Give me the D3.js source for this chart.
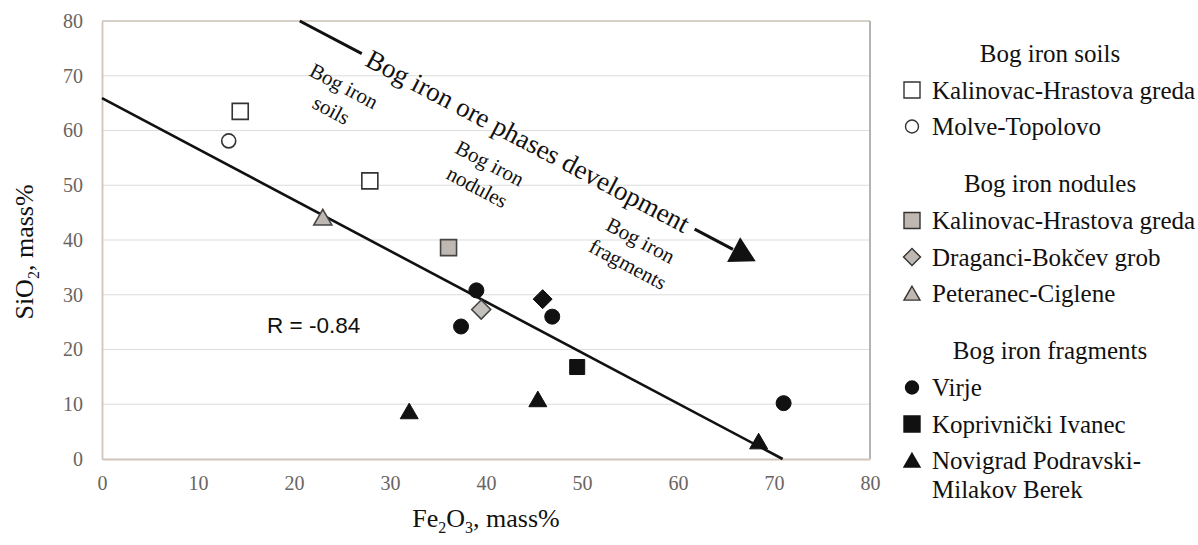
<!DOCTYPE html>
<html>
<head>
<meta charset="utf-8">
<script src="https://cdn.jsdelivr.net/npm/d3@7"></script>
<style>
  html, body { margin: 0; padding: 0; background: #fff; }
  svg { display: block; }
</style>
</head>
<body>
<svg id="chart" width="1198" height="545"></svg>
<script>
// ---------- data ----------
const xTicks = [0, 10, 20, 30, 40, 50, 60, 70, 80];
const yTicks = [0, 10, 20, 30, 40, 50, 60, 70, 80];
const xTitle = ["Fe", "2", "O", "3", ", mass%"];
const yTitle = ["SiO", "2", ", mass%"];

// Bog iron soils
const soilsKalinovac = [[14.4, 63.5], [27.9, 50.8]];
const soilsMolve = [[13.2, 58.1]];
// Bog iron nodules
const nodKalinovac = [[36.1, 38.6]];
const nodDraganci = [[39.5, 27.3]];
const nodPeteranec = [[23.0, 43.7]];
// Bog iron fragments
const fragVirje = [[39.0, 30.8], [37.4, 24.2], [46.9, 26.0], [71.0, 10.2]];
const fragKoprivnicki = [[49.5, 16.8]];
const fragNovigrad = [[32.0, 8.3], [45.4, 10.5], [68.4, 2.8]];
const fragDiamond = [[45.9, 29.2]];

// regression line (end points)
const trendX = [0, 70.9];
const trendY = [65.9, 0];
const rLabel = "R = -0.84";
const rPos = [17.2, 23.1];

// development arrow (data coordinates)
const arrowStart = [20.6, 80.0];
const arrowEnd = [68.1, 36.1];
const arrowLabel = "Bog iron ore phases development";

// phase annotations: [x, y] of first-line centre, lines
const phaseLabels = [
  { pos: [25.2, 68.1], lines: ["Bog iron", "soils"] },
  { pos: [40.4, 54.0], lines: ["Bog iron", "nodules"] },
  { pos: [56.1, 39.9], lines: ["Bog iron", "fragments"] }
];

// legend
const legendGroups = [
  { title: "Bog iron soils", items: [
    { label: ["Kalinovac-Hrastova greda"], shape: "square", fill: "#ffffff" },
    { label: ["Molve-Topolovo"], shape: "circle", fill: "#ffffff" } ] },
  { title: "Bog iron nodules", items: [
    { label: ["Kalinovac-Hrastova greda"], shape: "square", fill: "#bfb8b2" },
    { label: ["Draganci-Bokčev grob"], shape: "diamond", fill: "#bfb8b2" },
    { label: ["Peteranec-Ciglene"], shape: "triangle", fill: "#bfb8b2" } ] },
  { title: "Bog iron fragments", items: [
    { label: ["Virje"], shape: "circle", fill: "#111111" },
    { label: ["Koprivnički Ivanec"], shape: "square", fill: "#111111" },
    { label: ["Novigrad Podravski-", "Milakov Berek"], shape: "triangle", fill: "#111111" } ] }
];

// ---------- drawing ----------
const serif = "'Liberation Serif', 'Times New Roman', serif";
const sans = "'Liberation Sans', Arial, sans-serif";
const svg = d3.select("#chart");

const x = d3.scaleLinear().domain([0, 80]).range([102, 870]);
const y = d3.scaleLinear().domain([0, 80]).range([459, 21]);

// gridlines
svg.append("g")
  .selectAll("line")
  .data(yTicks.filter(t => t > 0 && t < 80))
  .join("line")
  .attr("x1", x(0)).attr("x2", x(80))
  .attr("y1", d => y(d)).attr("y2", d => y(d))
  .attr("stroke", "#dcdcdc").attr("stroke-width", 1.2);

// frame
svg.append("line").attr("x1", x(0)).attr("x2", x(80)).attr("y1", y(80)).attr("y2", y(80))
  .attr("stroke", "#c9c0b7").attr("stroke-width", 1.6);
svg.append("line").attr("x1", x(80)).attr("x2", x(80)).attr("y1", y(80)).attr("y2", y(0))
  .attr("stroke", "#b4b4b4").attr("stroke-width", 2);

// axes
const xAxis = svg.append("g").attr("transform", `translate(0,${y(0)})`)
  .call(d3.axisBottom(x).tickValues(xTicks).tickFormat(d3.format("d")).tickSize(0).tickPadding(17));
const yAxis = svg.append("g").attr("transform", `translate(${x(0)},0)`)
  .call(d3.axisLeft(y).tickValues(yTicks).tickFormat(d3.format("d")).tickSize(0).tickPadding(19));
[xAxis, yAxis].forEach(g => {
  g.select(".domain").attr("stroke", "#cfc5bc").attr("stroke-width", 1.8);
  g.selectAll("text").attr("font-family", serif).attr("font-size", 20).attr("fill", "#6a6460");
});

// axis titles
const xt = svg.append("text").attr("x", (x(0) + x(80)) / 2).attr("y", 527)
  .attr("text-anchor", "middle").attr("font-family", serif).attr("font-size", 26).attr("fill", "#111");
xTitle.forEach((s, i) => {
  const sub = (i === 1 || i === 3);
  xt.append("tspan").text(s)
    .attr("font-size", sub ? 16 : 26)
    .attr("dy", sub ? 6 : (i === 0 ? 0 : -6));
});
const yt = svg.append("text").attr("transform", `translate(33,252) rotate(-90)`)
  .attr("text-anchor", "middle").attr("font-family", serif).attr("font-size", 26).attr("fill", "#111");
yTitle.forEach((s, i) => {
  const sub = i === 1;
  yt.append("tspan").text(s).attr("font-size", sub ? 16 : 26).attr("dy", sub ? 6 : (i === 0 ? 0 : -6));
});

// regression line
svg.append("line")
  .attr("x1", x(trendX[0])).attr("y1", y(trendY[0]))
  .attr("x2", x(trendX[1])).attr("y2", y(trendY[1]))
  .attr("stroke", "#111").attr("stroke-width", 2.6);

svg.append("text").attr("x", x(rPos[0])).attr("y", y(rPos[1]))
  .attr("font-family", sans).attr("font-size", 22.5).attr("fill", "#111").text(rLabel);

// development arrow
const ax0 = x(arrowStart[0]), ay0 = y(arrowStart[1]);
const ax1 = x(arrowEnd[0]), ay1 = y(arrowEnd[1]);
const ang = Math.atan2(ay1 - ay0, ax1 - ax0);
const angDeg = ang * 180 / Math.PI;
const along = t => [ax0 + (ax1 - ax0) * t, ay0 + (ay1 - ay0) * t];
const p1 = along(0.136), p2 = along(0.866), pHead = along(0.95);
svg.append("line").attr("x1", ax0).attr("y1", ay0).attr("x2", p1[0]).attr("y2", p1[1])
  .attr("stroke", "#111").attr("stroke-width", 3);
svg.append("line").attr("x1", p2[0]).attr("y1", p2[1]).attr("x2", pHead[0]).attr("y2", pHead[1])
  .attr("stroke", "#111").attr("stroke-width", 3);
svg.append("path")
  .attr("transform", `translate(${ax1},${ay1}) rotate(${angDeg})`)
  .attr("d", "M0,0 L-25,-14 L-25,14 Z")
  .attr("fill", "#111");
const mid = along(0.5);
svg.append("text")
  .attr("transform", `translate(${mid[0]},${mid[1]}) rotate(${angDeg})`)
  .attr("text-anchor", "middle").attr("dominant-baseline", "central")
  .attr("font-family", serif).attr("font-size", 27).attr("fill", "#111")
  .text(arrowLabel);

// phase annotations
phaseLabels.forEach(p => {
  const t = svg.append("text")
    .attr("transform", `translate(${x(p.pos[0])},${y(p.pos[1])}) rotate(28)`)
    .attr("text-anchor", "middle").attr("dominant-baseline", "central")
    .attr("font-family", serif).attr("font-size", 21).attr("fill", "#111");
  p.lines.forEach((l, i) => t.append("tspan").attr("x", 0).attr("y", i * 27).text(l));
});

// markers
const shapePath = (shape, s) => {
  if (shape === "square") return d3.symbol(d3.symbolSquare, s * s)();
  if (shape === "circle") return d3.symbol(d3.symbolCircle, Math.PI * s * s / 4)();
  if (shape === "diamond") { const h = s / 2; return `M0,${-h}L${h},0L0,${h}L${-h},0Z`; }
  if (shape === "triangle") { const h = s * 0.866; return `M0,${-h * 2 / 3}L${s / 2},${h / 3}L${-s / 2},${h / 3}Z`; }
};
const drawSeries = (data, shape, size, fill, stroke, sw) => {
  svg.append("g").selectAll("path").data(data).join("path")
    .attr("transform", d => `translate(${x(d[0])},${y(d[1])})`)
    .attr("d", shapePath(shape, size))
    .attr("fill", fill).attr("stroke", stroke).attr("stroke-width", sw);
};
drawSeries(soilsKalinovac, "square", 16, "#fff", "#333", 1.6);
drawSeries(soilsMolve, "circle", 14, "#fff", "#333", 1.6);
drawSeries(nodKalinovac, "square", 16, "#bfb8b2", "#444", 1.6);
drawSeries(nodDraganci, "diamond", 19, "#c4c0bc", "#444", 1.6);
drawSeries(nodPeteranec, "triangle", 18, "#bfb8b2", "#444", 1.6);
drawSeries(fragVirje, "circle", 15, "#111", "#111", 1);
drawSeries(fragKoprivnicki, "square", 15, "#111", "#111", 1);
drawSeries(fragNovigrad, "triangle", 18, "#111", "#111", 1);
drawSeries(fragDiamond, "diamond", 19, "#111", "#111", 1);

// legend
const lg = svg.append("g");
let ly = 53;
legendGroups.forEach((g, gi) => {
  if (gi > 0) ly += 57;
  lg.append("text").attr("x", 1050).attr("y", ly).attr("text-anchor", "middle")
    .attr("dominant-baseline", "central").attr("font-family", serif).attr("font-size", 25)
    .attr("fill", "#111").text(g.title);
  g.items.forEach((it, ii) => {
    ly += ii === 0 ? 37 : 36.5;
    const s = it.shape === "circle" ? 13 : (it.shape === "diamond" ? 17 : 16);
    lg.append("path").attr("transform", `translate(912,${ly + (it.shape === "triangle" ? 2 : 0)})`)
      .attr("d", shapePath(it.shape, s))
      .attr("fill", it.fill).attr("stroke", it.fill === "#111111" ? "#111" : "#333").attr("stroke-width", 1.4);
    it.label.forEach((l, li) => {
      lg.append("text").attr("x", 932).attr("y", ly + li * 29)
        .attr("dominant-baseline", "central").attr("font-family", serif).attr("font-size", 25)
        .attr("fill", "#111").text(l);
    });
  });
});
</script>
</body>
</html>
